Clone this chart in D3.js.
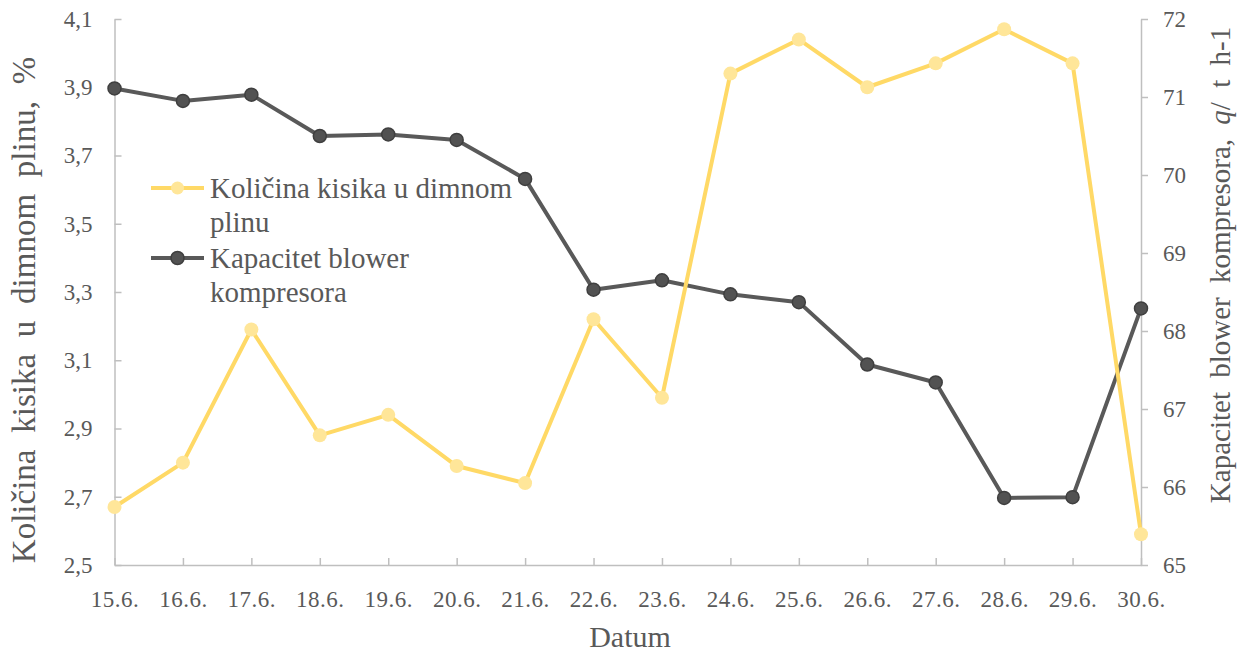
<!DOCTYPE html>
<html>
<head>
<meta charset="utf-8">
<script src="https://cdn.jsdelivr.net/npm/d3@7"></script>
<style>
  html, body { margin: 0; padding: 0; background: #fff; }
  svg { display: block; }
  svg text { font-family: 'Liberation Serif', 'Tinos', 'Times New Roman', 'DejaVu Serif', serif !important; fill: #595959; }
</style>
</head>
<body>
<svg id="chart" width="1239" height="652"></svg>
<script>
const dates = ["15.6.", "16.6.", "17.6.", "18.6.", "19.6.", "20.6.", "21.6.", "22.6.",
               "23.6.", "24.6.", "25.6.", "26.6.", "27.6.", "28.6.", "29.6.", "30.6."];
const oxygen = [2.67, 2.80, 3.19, 2.88, 2.94, 2.79, 2.74, 3.22, 2.99, 3.94, 4.04, 3.90, 3.97, 4.07, 3.97, 2.59];
const capacity = [71.11, 70.95, 71.03, 70.50, 70.52, 70.45, 69.95, 68.53, 68.65, 68.47, 68.37, 67.57, 67.34, 65.86, 65.87, 68.29];
const leftTicks = [2.5, 2.7, 2.9, 3.1, 3.3, 3.5, 3.7, 3.9, 4.1];
const rightTicks = [65, 66, 67, 68, 69, 70, 71, 72];
const seriesNames = ["Količina kisika u dimnom plinu", "Kapacitet blower kompresora"];

const svg = d3.select("#chart");
const L = 114.5, R = 1141, T = 19, B = 565;
const axisColor = "#BFBFBF";
const yellowLine = "#FFD966", yellowFill = "#FFE699";
const darkLine = "#595959", darkFill = "#525252", darkStroke = "#3F3F3F";
const serif = "'Liberation Serif', 'Tinos', 'Times New Roman', 'DejaVu Serif', serif";

const x = d3.scalePoint().domain(dates).range([L, R]);
const yL = d3.scaleLinear().domain([2.5, 4.1]).range([B, T]);
const yR = d3.scaleLinear().domain([65, 72]).range([B, T]);

const comma = d => d3.format(".1f")(d).replace(".", ",");

// Axes
const gL = svg.append("g").attr("transform", `translate(${L},0)`)
  .call(d3.axisLeft(yL).tickValues(leftTicks).tickFormat(comma).tickSizeInner(-7).tickSizeOuter(0).tickPadding(22));
const gR = svg.append("g").attr("transform", `translate(${R},0)`)
  .call(d3.axisRight(yR).tickValues(rightTicks).tickFormat(d3.format("d")).tickSizeInner(7).tickSizeOuter(0).tickPadding(15));
const gX = svg.append("g").attr("transform", `translate(0,${B})`)
  .call(d3.axisBottom(x).tickSizeInner(-7).tickSizeOuter(0).tickPadding(26));

[gL, gR, gX].forEach(g => {
  g.attr("font-family", serif).attr("font-size", 23);
  g.selectAll(".domain").attr("stroke", axisColor).attr("stroke-width", 1.5);
  g.selectAll(".tick line").attr("stroke", axisColor).attr("stroke-width", 1.5);
  g.selectAll(".tick text").attr("fill", "#595959").attr("font-family", serif).attr("font-size", 23);
});
gX.selectAll(".tick text").attr("letter-spacing", "0.5px").attr("dy", "0.71em");

// Lines
const lineL = d3.line().x((d, i) => x(dates[i])).y(d => yL(d));
const lineR = d3.line().x((d, i) => x(dates[i])).y(d => yR(d));

svg.append("path").datum(capacity).attr("d", lineR)
  .attr("fill", "none").attr("stroke", darkLine).attr("stroke-width", 4).attr("stroke-linejoin", "round");
svg.append("g").selectAll("circle").data(capacity).join("circle")
  .attr("cx", (d, i) => x(dates[i])).attr("cy", d => yR(d)).attr("r", 6.5)
  .attr("fill", darkFill).attr("stroke", darkStroke).attr("stroke-width", 1.5);

svg.append("path").datum(oxygen).attr("d", lineL)
  .attr("fill", "none").attr("stroke", yellowLine).attr("stroke-width", 4).attr("stroke-linejoin", "round");
svg.append("g").selectAll("circle").data(oxygen).join("circle")
  .attr("cx", (d, i) => x(dates[i])).attr("cy", d => yL(d)).attr("r", 7)
  .attr("fill", yellowFill).attr("stroke", "none");

// Legend
const leg = svg.append("g").attr("font-family", serif);
const legItems = [
  { lines: ["Količina kisika u dimnom", "plinu"], y: 188, line: yellowLine, fill: yellowFill, stroke: "none" },
  { lines: ["Kapacitet blower", "kompresora"], y: 258, line: darkLine, fill: darkFill, stroke: darkStroke }
];
legItems.forEach(it => {
  leg.append("line").attr("x1", 151).attr("x2", 204).attr("y1", it.y).attr("y2", it.y)
    .attr("stroke", it.line).attr("stroke-width", 4);
  leg.append("circle").attr("cx", 177.5).attr("cy", it.y).attr("r", 6.5)
    .attr("fill", it.fill).attr("stroke", it.stroke).attr("stroke-width", 1.5);
  const t = leg.append("text").attr("x", 210).attr("y", it.y + 9.5).attr("font-size", 29);
  it.lines.forEach((s, j) => {
    t.append("tspan").attr("x", 210).attr("dy", j === 0 ? 0 : 34).text(s);
  });
});

// Axis titles
svg.append("text").attr("x", 630).attr("y", 647).attr("font-family", serif)
  .attr("text-anchor", "middle").attr("font-size", 30).text("Datum");

svg.append("text").attr("font-family", serif)
  .attr("transform", "translate(35,310) rotate(-90)")
  .attr("text-anchor", "middle").attr("font-size", 33).attr("word-spacing", "8.5px")
  .text("Količina kisika u dimnom plinu, %");

const rt = svg.append("text").attr("font-family", serif)
  .attr("transform", "translate(1230,265) rotate(-90)")
  .attr("text-anchor", "middle").attr("font-size", 29).attr("word-spacing", "7px");
rt.append("tspan").text("Kapacitet blower kompresora, ");
rt.append("tspan").attr("font-style", "italic").text("q");
rt.append("tspan").text("/ t h-1");
</script>
</body>
</html>
